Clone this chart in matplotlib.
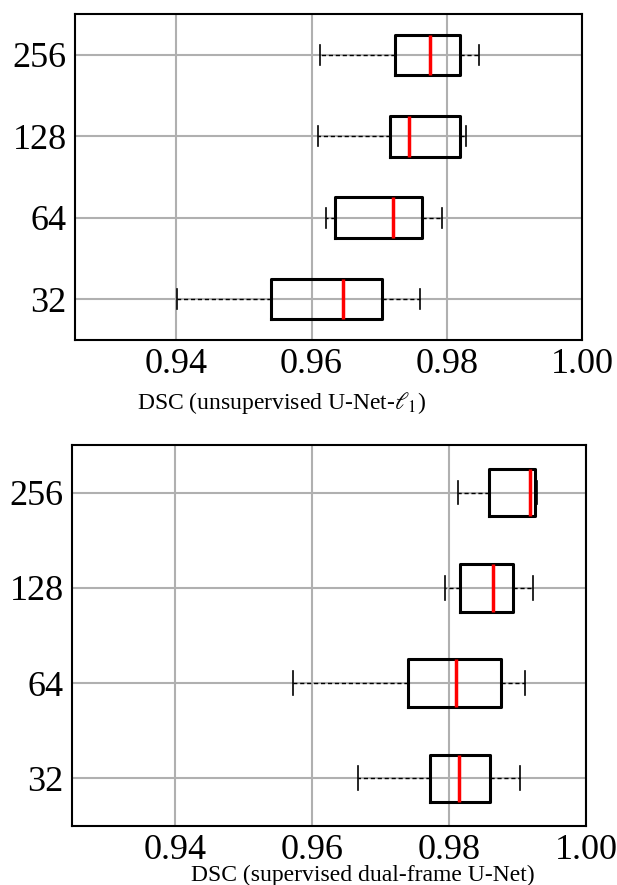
import matplotlib
matplotlib.use('Agg')
import matplotlib.pyplot as plt

plt.rcParams['font.family'] = ['Liberation Serif', 'DejaVu Serif']
plt.rcParams['mathtext.fontset'] = 'stix'

# patch sizes (y axis), bottom to top
labels = ['32', '64', '128', '256']

# unsupervised U-Net-l1: whisker low, Q1, median, Q3, whisker high
unsup_lo = [0.9401, 0.9622, 0.9610, 0.9612]
unsup_q1 = [0.9540, 0.9634, 0.9716, 0.9724]
unsup_med = [0.9647, 0.9720, 0.9744, 0.9775]
unsup_q3 = [0.9704, 0.9763, 0.9819, 0.9819]
unsup_hi = [0.9761, 0.9793, 0.9828, 0.9848]

# supervised dual-frame U-Net
sup_lo = [0.9668, 0.9573, 0.9794, 0.9813]
sup_q1 = [0.9772, 0.9740, 0.9816, 0.9859]
sup_med = [0.9815, 0.9811, 0.9864, 0.9918]
sup_q3 = [0.9860, 0.9876, 0.9893, 0.9926]
sup_hi = [0.9904, 0.9911, 0.9922, 0.9928]


def make_stats(lo, q1, med, q3, hi):
    stats = []
    for i in range(len(labels)):
        stats.append({'whislo': lo[i], 'q1': q1[i], 'med': med[i],
                      'q3': q3[i], 'whishi': hi[i], 'fliers': [],
                      'label': labels[i]})
    return stats


def draw(ax, stats, xlabel, label_x, label_y):
    ax.bxp(stats, vert=False, showfliers=False, widths=0.5,
           boxprops=dict(color='black', linewidth=2.2),
           medianprops=dict(color='red', linewidth=2.5),
           whiskerprops=dict(color='black', linewidth=1, linestyle=(0, (3, 2))),
           capprops=dict(color='black', linewidth=1.2))
    ax.set_xlim(0.925, 1.0)
    ax.set_ylim(0.5, 4.5)
    ax.set_xticks([0.94, 0.96, 0.98, 1.00])
    ax.set_xticklabels(['0.94', '0.96', '0.98', '1.00'])
    ax.grid(True, color='#b0b0b0', linewidth=1.5)
    ax.set_axisbelow(True)
    ax.tick_params(length=0, labelsize=26, pad=6)
    for s in ax.spines.values():
        s.set_linewidth(1.5)
    ax.set_xlabel(xlabel, fontsize=17)
    ax.xaxis.set_label_coords(label_x, label_y)


fig = plt.figure(figsize=(6.17, 8.85), dpi=100)
ax1 = fig.add_axes([0.1216, 0.616, 0.8217, 0.368])
ax2 = fig.add_axes([0.1167, 0.0667, 0.8331, 0.4306])

draw(ax1, make_stats(unsup_lo, unsup_q1, unsup_med, unsup_q3, unsup_hi),
     r'DSC (unsupervised U-Net-$\ell_1$)', 0.408, -0.155)
draw(ax2, make_stats(sup_lo, sup_q1, sup_med, sup_q3, sup_hi),
     'DSC (supervised dual-frame U-Net)', 0.566, -0.102)

fig.savefig('out.png', dpi=100)
